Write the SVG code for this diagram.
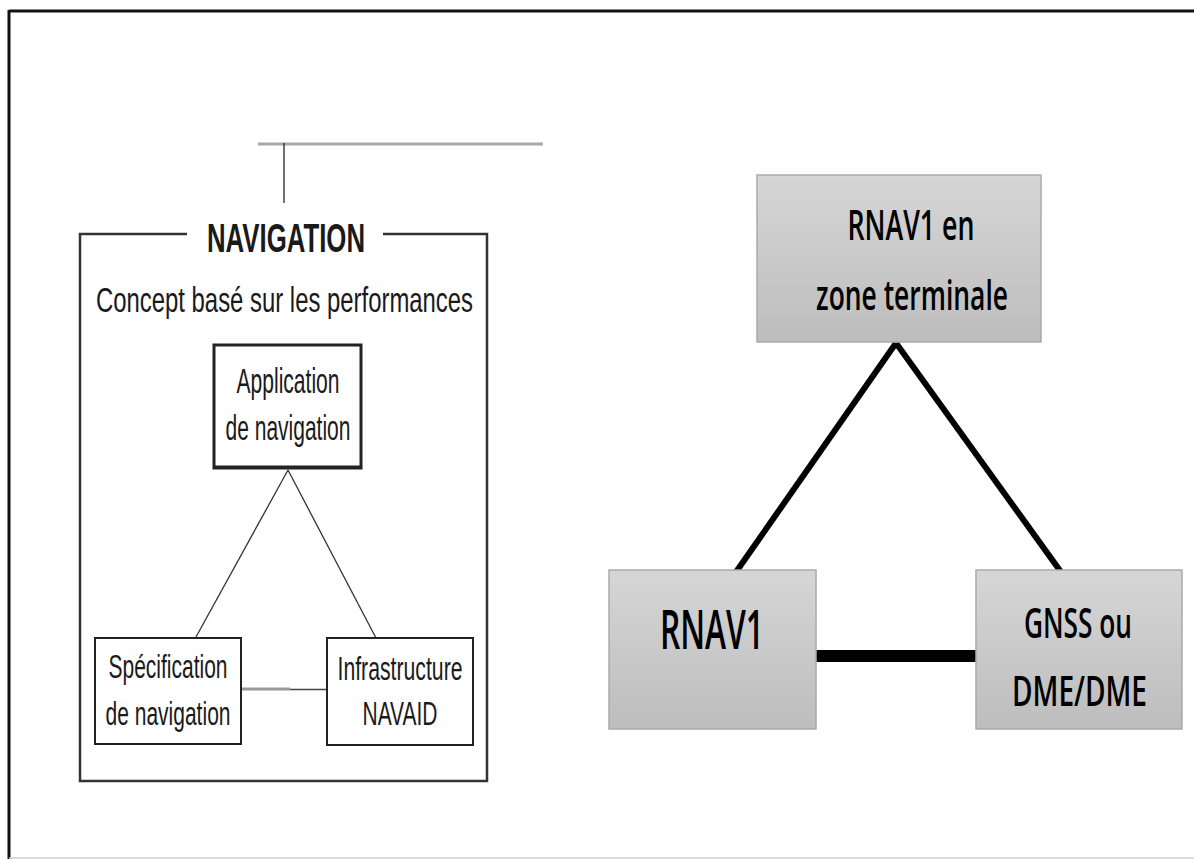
<svg xmlns="http://www.w3.org/2000/svg" width="1194" height="859" viewBox="0 0 1194 859">
  <defs>
    <linearGradient id="greyFill" x1="0" y1="0" x2="0" y2="1">
      <stop offset="0" stop-color="#d6d6d6"/>
      <stop offset="1" stop-color="#bdbdbd"/>
    </linearGradient>
    <style>
      .narrow { font-family: "Liberation Sans", Arial, sans-serif; fill: #1a1a1a; text-anchor: middle; }
      .calib { font-family: "Open Sans", "Noto Sans", sans-serif; font-weight: 600; fill: #000; text-anchor: middle; }
      .wbox { fill: #fff; stroke: #222; stroke-width: 2; }
      .gbox { fill: url(#greyFill); stroke: #aaaaaa; stroke-width: 1.5; }
      .thin { stroke: #333; stroke-width: 1.3; fill: none; }
      .heavy { stroke: #000; stroke-width: 6; fill: none; }
    </style>
  </defs>

  <rect x="0" y="0" width="1194" height="859" fill="#fff"/>

  <!-- page frame -->
  <g id="frame">
    <line x1="9" y1="11" x2="1194" y2="11" stroke="#111" stroke-width="3"/>
    <line x1="9" y1="10" x2="9" y2="859" stroke="#111" stroke-width="3"/>
    <line x1="9" y1="858" x2="1194" y2="858" stroke="#d0d0d0" stroke-width="1.5"/>
  </g>

  <!-- header rule with drop line -->
  <g id="header">
    <line x1="258" y1="144" x2="543" y2="144" stroke="#a8a8a8" stroke-width="3"/>
    <line x1="284" y1="143" x2="284" y2="203" stroke="#222" stroke-width="1.3"/>
  </g>

  <!-- NAVIGATION panel -->
  <g id="navigation-panel">
    <polyline points="187,234 80,234 80,781 487,781 487,234 383,234" fill="none" stroke="#333" stroke-width="2.5"/>
    <text class="narrow" x="286" y="252" font-size="41" font-weight="bold" textLength="158" lengthAdjust="spacingAndGlyphs">NAVIGATION</text>
    <text class="narrow" x="284.5" y="312" font-size="35" textLength="377" lengthAdjust="spacingAndGlyphs">Concept basé sur les performances</text>
  </g>

  <!-- connectors -->
  <g id="connectors">
    <line class="thin" x1="288" y1="470" x2="196" y2="637"/>
    <line class="thin" x1="288" y1="470" x2="376" y2="638"/>
    <line x1="241" y1="689" x2="290" y2="689" stroke="#999" stroke-width="3"/>
    <line x1="290" y1="689.5" x2="327" y2="689.5" stroke="#444" stroke-width="1.3"/>
    <line class="heavy" x1="896" y1="343" x2="736" y2="572"/>
    <line class="heavy" x1="896" y1="343" x2="1061" y2="572"/>
    <line x1="816" y1="656" x2="976" y2="656" stroke="#000" stroke-width="12"/>
  </g>

  <g id="application">
    <rect x="214" y="345" width="147" height="123" fill="#fff" stroke="#222" stroke-width="3"/>
    <line x1="213" y1="467" x2="362" y2="467" stroke="#222" stroke-width="3"/>
    <text class="narrow" x="288" y="393" font-size="35" textLength="103" lengthAdjust="spacingAndGlyphs">Application</text>
    <text class="narrow" x="288" y="440" font-size="35" textLength="125" lengthAdjust="spacingAndGlyphs">de navigation</text>
  </g>

  <g id="specification">
    <rect class="wbox" x="95" y="638" width="146" height="106"/>
    <text class="narrow" x="168" y="678" font-size="33" textLength="119" lengthAdjust="spacingAndGlyphs">Spécification</text>
    <text class="narrow" x="168" y="725" font-size="33" textLength="125" lengthAdjust="spacingAndGlyphs">de navigation</text>
  </g>

  <g id="infrastructure">
    <rect class="wbox" x="327" y="638" width="146" height="107"/>
    <text class="narrow" x="400" y="680" font-size="33" textLength="125" lengthAdjust="spacingAndGlyphs">Infrastructure</text>
    <text class="narrow" x="400" y="725" font-size="33" textLength="75" lengthAdjust="spacingAndGlyphs">NAVAID</text>
  </g>

  <g id="rnav1-terminal">
    <rect class="gbox" x="757" y="175" width="284" height="167"/>
    <text class="calib" x="911" y="240" font-size="42" textLength="127" lengthAdjust="spacingAndGlyphs">RNAV1 en</text>
    <text class="calib" x="912" y="310" font-size="42" textLength="192" lengthAdjust="spacingAndGlyphs">zone terminale</text>
  </g>

  <g id="rnav1">
    <rect class="gbox" x="609" y="570" width="207" height="159"/>
    <text class="calib" x="712" y="649" font-size="54" textLength="104" lengthAdjust="spacingAndGlyphs">RNAV1</text>
  </g>

  <g id="gnss-dme">
    <rect class="gbox" x="976" y="570" width="206" height="159"/>
    <text class="calib" x="1078" y="638" font-size="42" textLength="108" lengthAdjust="spacingAndGlyphs">GNSS ou</text>
    <text class="calib" x="1079.5" y="706" font-size="42" textLength="135" lengthAdjust="spacingAndGlyphs">DME/DME</text>
  </g>
</svg>
